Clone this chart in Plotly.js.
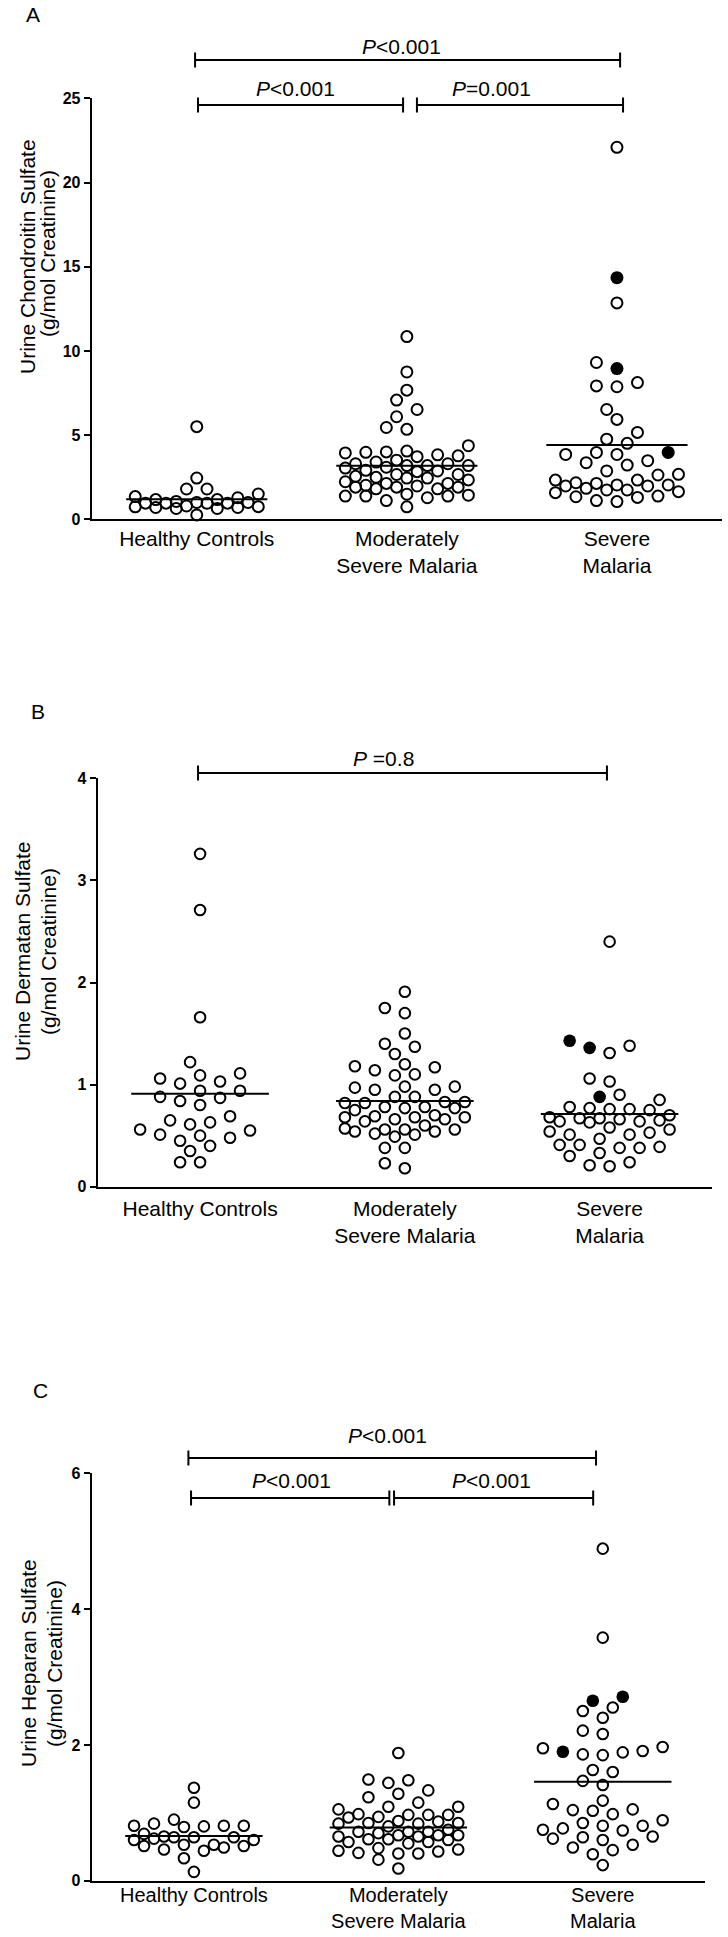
<!DOCTYPE html>
<html><head><meta charset="utf-8">
<script src="https://cdn.plot.ly/plotly-3.0.1.min.js"></script>
<style>html,body{margin:0;padding:0;background:#fff}#chart{width:728px;height:1937px}</style>
</head><body><div id="chart"></div>
<script>
// ---------------- DATA ----------------
const categories = ['Healthy Controls', 'Moderately<br>Severe Malaria', 'Severe<br>Malaria'];

// Panel A: urine chondroitin sulfate (g/mol creatinine)
const csHealthy = [5.5, 2.45, 1.8, 1.8, 1.5, 1.35, 1.28, 1.17, 1.17, 1.06, 1.0, 1.0, 0.96, 0.96, 0.96, 0.79, 0.75, 0.74, 0.7, 0.7, 0.64, 0.64, 0.95, 0.26];
const csModerate = [10.85, 8.75, 7.67, 7.08, 6.52, 6.09, 5.45, 5.34, 4.37,
  3.77, 3.83, 4.05, 3.98, 3.94, 4.0, 3.72,
  3.19, 3.3, 3.09, 3.4, 3.19, 3.3, 3.19, 3.51, 3.04,
  2.66, 2.45, 2.23, 2.87, 2.91, 2.49, 2.83, 2.34, 2.45, 2.55, 2.66,
  1.91, 2.13, 1.98, 1.81, 1.91, 2.13, 2.02, 1.81, 1.91,
  1.49, 1.38, 1.28, 1.38, 1.11, 1.38, 1.43, 0.74];
const csSevere = [22.09, 12.85, 9.31, 7.92, 7.87, 8.12, 6.52, 5.93, 5.16, 4.51, 4.76, 3.85, 3.85, 3.97, 3.36, 3.48, 3.22,
  2.87, 2.63, 2.67, 2.33, 2.17, 2.04, 2.33, 2.13, 1.98, 1.98, 2.04, 1.84, 1.74, 1.74, 1.64, 1.58, 1.34, 1.30, 1.38, 1.05, 1.11];
const csSevereFilled = [14.35, 8.95, 3.97];
const csMeans = [1.19, 3.18, 4.41];

// Panel B: urine dermatan sulfate
const dsHealthy = [3.26, 2.71, 1.66, 1.22, 1.11, 1.09, 1.03, 1.06, 1.01, 0.94, 0.94, 0.88, 0.87, 0.84, 0.80,
  0.65, 0.69, 0.63, 0.61, 0.56, 0.51, 0.55, 0.48, 0.50, 0.45, 0.40, 0.35, 0.24, 0.24];
const dsModerate = [1.91, 1.70, 1.75, 1.50, 1.40, 1.37, 1.30, 1.20, 1.14, 1.17, 1.18, 1.09, 1.10,
  0.98, 0.95, 0.95, 0.97, 0.98, 0.88, 0.88, 0.82, 0.82, 0.83, 0.83, 0.78, 0.78, 0.75, 0.77, 0.77,
  0.66, 0.68, 0.68, 0.68, 0.69, 0.64, 0.70, 0.66, 0.60, 0.56, 0.54, 0.56, 0.57, 0.54, 0.56, 0.51, 0.49, 0.52,
  0.38, 0.38, 0.23, 0.18];
const dsSevere = [2.40, 1.31, 1.38, 1.03, 1.06, 0.90, 0.85, 0.76, 0.75, 0.78, 0.77, 0.70, 0.76, 0.67, 0.66, 0.64, 0.68,
  0.63, 0.64, 0.65, 0.67, 0.58, 0.54, 0.56, 0.51, 0.47, 0.51, 0.53, 0.41, 0.39, 0.41, 0.38, 0.33, 0.38, 0.30, 0.24, 0.20, 0.21];
const dsSevereFilled = [1.43, 1.36, 0.88];
const dsMeans = [0.911, 0.839, 0.712];

// Panel C: urine heparan sulfate
const hsHealthy = [1.37, 1.15, 0.90, 0.81, 0.81, 0.79, 0.80, 0.81, 0.84, 0.64, 0.69, 0.62, 0.64, 0.64, 0.65, 0.60, 0.60,
  0.53, 0.51, 0.46, 0.44, 0.49, 0.51, 0.53, 0.33, 0.13];
const hsModerate = [1.88, 1.49, 1.44, 1.48, 1.28, 1.33, 1.15, 1.23, 1.09, 1.09, 1.05,
  0.98, 0.97, 0.93, 0.94, 0.97, 0.97, 0.88, 0.85, 0.84, 0.84, 0.87, 0.85, 0.80,
  0.67, 0.65, 0.67, 0.72, 0.72, 0.75, 0.70, 0.72, 0.65, 0.67,
  0.61, 0.61, 0.57, 0.60, 0.55, 0.57,
  0.44, 0.41, 0.40, 0.46, 0.48, 0.40, 0.43, 0.31, 0.18];
const hsSevere = [4.89, 3.58, 2.55, 2.40, 2.50, 2.16, 2.21, 1.95, 1.86, 1.85, 1.89, 1.91, 1.97, 1.63, 1.60, 1.47, 1.41,
  1.18, 1.13, 1.03, 0.98, 1.04, 1.05, 0.85, 0.89, 0.81, 0.75, 0.77, 0.81, 0.64, 0.62, 0.45, 0.53, 0.60, 0.39, 0.65, 0.49, 0.74, 0.23];
const hsSevereFilled = [2.71, 2.65, 1.90];
const hsMeans = [0.658, 0.785, 1.458];

// ---------------- LAYOUT / STYLE ----------------
const W = 728, H = 1937;
const FONT = 'Liberation Sans, Arial, Helvetica, sans-serif';
const px2x = p => p / W;
const px2y = p => 1 - p / H;

const panels = [
  { letter: 'A', lx: 33, ly: 15, x0: 91.7, x1: 722, yTop: 98.3, yBot: 519.3, ymax: 25, dtick: 5,
    labStandoff: -1, labSize: 21,
    title: ['Urine Chondroitin Sulfate', '(g/mol Creatinine)'], tpos: [[27, 257], [48, 254]],
    groups: [[csHealthy, []], [csModerate, []], [csSevere, csSevereFilled]], means: csMeans,
    brackets: [
      { a: -0.008, b: 2.015, y: 60, label: '<i>P</i>&lt;0.001', tx: 401, ty: 46 },
      { a: 0.006, b: 0.982, y: 105, label: '<i>P</i>&lt;0.001', tx: 295, ty: 89 },
      { a: 1.048, b: 2.029, y: 105, label: '<i>P</i>=0.001', tx: 491, ty: 89 } ] },
  { letter: 'B', lx: 38, ly: 711, x0: 97.7, x1: 712, yTop: 778.3, yBot: 1186.7, ymax: 4, dtick: 1,
    labStandoff: 2, labSize: 21,
    title: ['Urine Dermatan Sulfate', '(g/mol Creatinine)'], tpos: [[22, 952], [48, 952]],
    groups: [[dsHealthy, []], [dsModerate, []], [dsSevere, dsSevereFilled]], means: dsMeans,
    brackets: [ { a: -0.01, b: 1.987, y: 773, label: '<i>P</i> =0.8', tx: 383, ty: 758 } ] },
  { letter: 'C', lx: 40, ly: 1390, x0: 91.7, x1: 705, yTop: 1473.3, yBot: 1880.7, ymax: 6, dtick: 2,
    labStandoff: -5, labSize: 20,
    title: ['Urine Heparan Sulfate', '(g/mol Creatinine)'], tpos: [[28, 1663], [54, 1664]],
    groups: [[hsHealthy, []], [hsModerate, []], [hsSevere, hsSevereFilled]], means: hsMeans,
    brackets: [
      { a: -0.027, b: 1.967, y: 1458, label: '<i>P</i>&lt;0.001', tx: 387, ty: 1435 },
      { a: -0.014, b: 0.956, y: 1498, label: '<i>P</i>&lt;0.001', tx: 291, ty: 1480 },
      { a: 0.979, b: 1.953, y: 1498, label: '<i>P</i>&lt;0.001', tx: 491, ty: 1480 } ] }
];

// Beeswarm placement (Prism-like scatter dot plot), computed in pixel space
function swarm(values, pxPerUnit, pxPerCat) {
  const half = 0.0488 * pxPerCat, D = 14, maxK = 6;
  const cands = [0];
  for (let k = 1; k <= maxK; k++) cands.push(-k * half, k * half);
  const order = values.map((v, i) => i).sort((a, b) => values[a] - values[b]);
  const placed = [], off = new Array(values.length).fill(0);
  for (const i of order) {
    const y = values[i] * pxPerUnit;
    let best = 0, bestD = -1;
    for (const c of cands) {
      let md = Infinity;
      for (const p of placed) {
        const dy = y - p.y;
        if (Math.abs(dy) >= D) continue;
        const d = Math.hypot(c - p.x, dy);
        if (d < md) md = d;
      }
      if (md >= D) { best = c; bestD = Infinity; break; }
      if (md > bestD) { bestD = md; best = c; }
    }
    placed.push({ x: best, y });
    off[i] = best / pxPerCat;
  }
  return off;
}

const traces = [], annotations = [], shapes = [], layout = {
  width: W, height: H, margin: { l: 0, r: 0, t: 0, b: 0 },
  paper_bgcolor: '#fff', plot_bgcolor: 'rgba(0,0,0,0)', showlegend: false,
  font: { family: FONT, color: '#000', size: 21 }
};

panels.forEach((P, k) => {
  const sfx = k === 0 ? '' : String(k + 1);
  const xa = 'x' + sfx, ya = 'y' + sfx;
  const pxPerUnit = (P.yBot - P.yTop) / P.ymax;
  const pxPerCat = (P.x1 - P.x0) / 3;
  const msize = k === 0 ? 11 : 10.6;

  layout['xaxis' + sfx] = {
    domain: [px2x(P.x0), px2x(P.x1)], range: [-0.5, 2.5], anchor: ya,
    showline: true, linecolor: '#000', linewidth: 2, ticks: '', showgrid: false, zeroline: false,
    tickmode: 'array', tickvals: [0, 1, 2], ticktext: categories,
    tickfont: { family: FONT, size: P.labSize, color: '#000' }, ticklabelstandoff: P.labStandoff, fixedrange: true
  };
  layout['yaxis' + sfx] = {
    domain: [px2y(P.yBot), px2y(P.yTop)], range: [0, P.ymax], anchor: xa,
    showline: true, linecolor: '#000', linewidth: 2, ticks: 'outside', ticklen: 6, tickwidth: 2, tickcolor: '#000',
    dtick: P.dtick, tick0: 0, showgrid: false, zeroline: false,
    tickfont: { family: FONT, size: 16, color: '#000', weight: 'bold' }, fixedrange: true
  };

  P.groups.forEach((g, gi) => {
    const open = g[0], filled = g[1];
    const all = open.concat(filled);
    const off = swarm(all, pxPerUnit, pxPerCat);
    const xo = open.map((v, i) => gi + off[i]);
    const xf = filled.map((v, i) => gi + off[open.length + i]);
    traces.push({ type: 'scatter', mode: 'markers', x: xo, y: open, xaxis: xa, yaxis: ya, cliponaxis: false,
      marker: { symbol: 'circle-open', size: msize, color: '#000', line: { width: 2, color: '#000' } }, hoverinfo: 'y' });
    if (filled.length) traces.push({ type: 'scatter', mode: 'markers', x: xf, y: filled, xaxis: xa, yaxis: ya, cliponaxis: false,
      marker: { symbol: 'circle', size: msize + 2, color: '#000', line: { width: 0 } }, hoverinfo: 'y' });
  });
  P.means.forEach((m, gi) => {
    traces.push({ type: 'scatter', mode: 'lines', x: [gi - 0.336, gi + 0.336], y: [m, m], xaxis: xa, yaxis: ya,
      line: { color: '#000', width: 2 }, hoverinfo: 'skip' });
  });

  // panel letter
  annotations.push({ text: P.letter, xref: 'paper', yref: 'paper', x: px2x(P.lx), y: px2y(P.ly),
    xanchor: 'center', yanchor: 'middle', showarrow: false, font: { family: FONT, size: 21, color: '#000' } });
  // y-axis title (two rotated lines)
  P.title.forEach((t, ti) => {
    annotations.push({ text: t, xref: 'paper', yref: 'paper', x: px2x(P.tpos[ti][0]), y: px2y(P.tpos[ti][1]),
      xanchor: 'center', yanchor: 'middle', textangle: -90, showarrow: false, font: { family: FONT, size: 21, color: '#000' } });
  });
  // significance brackets
  const c2px = c => P.x0 + (c + 0.5) * pxPerCat;
  P.brackets.forEach(b => {
    const xa0 = px2x(c2px(b.a)), xb0 = px2x(c2px(b.b));
    const ln = { color: '#000', width: 2 };
    shapes.push({ type: 'line', xref: 'paper', yref: 'paper', x0: xa0, x1: xb0, y0: px2y(b.y), y1: px2y(b.y), line: ln });
    shapes.push({ type: 'line', xref: 'paper', yref: 'paper', x0: xa0, x1: xa0, y0: px2y(b.y - 7.5), y1: px2y(b.y + 7.5), line: ln });
    shapes.push({ type: 'line', xref: 'paper', yref: 'paper', x0: xb0, x1: xb0, y0: px2y(b.y - 7.5), y1: px2y(b.y + 7.5), line: ln });
    annotations.push({ text: b.label, xref: 'paper', yref: 'paper', x: px2x(b.tx), y: px2y(b.ty),
      xanchor: 'center', yanchor: 'middle', showarrow: false, font: { family: FONT, size: 21, color: '#000' } });
  });
});

layout.annotations = annotations;
layout.shapes = shapes;
Plotly.newPlot('chart', traces, layout, { staticPlot: true, displayModeBar: false });
</script></body></html>
